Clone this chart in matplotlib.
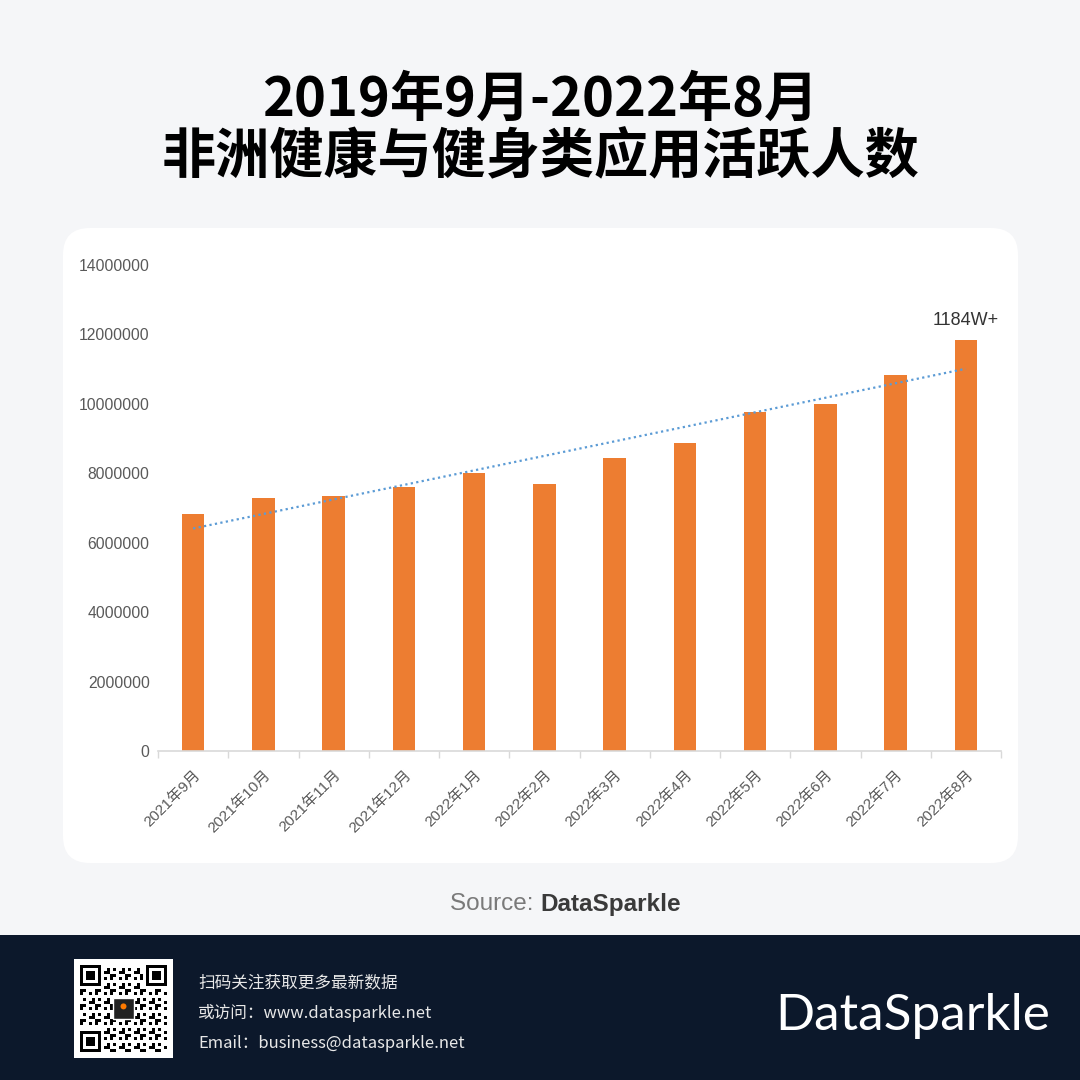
import matplotlib
matplotlib.use("Agg")
import matplotlib.pyplot as plt
import numpy as np
from matplotlib.patches import FancyBboxPatch, Rectangle, Circle

# ---------------- data ----------------
months = ["2021年9月", "2021年10月", "2021年11月", "2021年12月", "2022年1月", "2022年2月",
          "2022年3月", "2022年4月", "2022年5月", "2022年6月", "2022年7月", "2022年8月"]
active_users = [6830000, 7290000, 7350000, 7610000, 8010000, 7690000,
                8440000, 8870000, 9770000, 10000000, 10830000, 11840000]
y_ticks = [0, 2000000, 4000000, 6000000, 8000000, 10000000, 12000000, 14000000]
last_label = "1184W+"

title_lines = ["2019年9月-2022年8月", "非洲健康与健身类应用活跃人数"]

CJK = ["Noto Sans CJK SC", "DejaVu Sans"]
LAT = ["Liberation Sans", "Noto Sans CJK SC", "DejaVu Sans"]
plt.rcParams["font.family"] = LAT

W = H = 1080
fig = plt.figure(figsize=(10.8, 10.8), dpi=100)
fig.patch.set_facecolor("#f5f6f8")

def fx(px):
    return px / W

def fy(py):
    return 1 - py / H

# title
fig.text(0.5, fy(100), title_lines[0], ha="center", va="center", fontsize=39,
         fontweight="heavy", family=CJK, color="#000000")
fig.text(0.5, fy(158), title_lines[1], ha="center", va="center", fontsize=39,
         fontweight="heavy", family=CJK, color="#000000")

# white panel
panel = FancyBboxPatch((fx(63), fy(863)), fx(1018 - 63), (863 - 228) / H,
                       boxstyle="round,pad=0,rounding_size=0.025",
                       transform=fig.transFigure, facecolor="white",
                       edgecolor="none", zorder=-10)
fig.patches.append(panel)

# axes
ax = fig.add_axes([fx(158), fy(751), fx(1001 - 158), (751 - 265) / H])
ax.set_facecolor("none")
ax.set_zorder(5)
x = np.arange(len(months))
ax.bar(x, active_users, width=0.32, color="#ED7D31", zorder=2)

# linear trendline
coef = np.polyfit(x, active_users, 1)
ax.plot(x, np.polyval(coef, x), linestyle=(0, (1, 1.5)), color="#5B9BD5",
        linewidth=1.6, zorder=3)

ax.annotate(last_label, (x[-1], active_users[-1]), xytext=(0, 8),
            textcoords="offset points", ha="center", va="bottom",
            fontsize=13, color="#333333")

ax.set_xlim(-0.5, len(months) - 0.5)
ax.set_ylim(0, 14000000)
ax.set_yticks(y_ticks)
ax.set_yticklabels([str(v) for v in y_ticks], fontsize=11.3, color="#595959")
ax.tick_params(axis="y", length=0, pad=6)

ax.set_xticks(x)
ax.set_xticklabels(months, rotation=45, ha="right", rotation_mode="anchor",
                   fontsize=11, color="#595959")
ax.tick_params(axis="x", which="major", length=0, pad=12)
ax.set_xticks(np.arange(-0.5, len(months), 1), minor=True)
ax.tick_params(axis="x", which="minor", length=5, color="#d9d9d9", width=1)

for s in ["top", "right", "left"]:
    ax.spines[s].set_visible(False)
ax.spines["bottom"].set_color("#d9d9d9")
ax.spines["bottom"].set_linewidth(1.2)

# source
fig.text(0.5, fy(904), "Source: ", ha="right", va="center", fontsize=17.5,
         color="#7a7a7a", family=LAT)
fig.text(0.5, fy(904), "DataSparkle", ha="left", va="center", fontsize=17.5,
         color="#3a3a3a", fontweight="bold", family=LAT)

# footer band
band = Rectangle((0, 0), 1, (1080 - 935) / H, transform=fig.transFigure,
                 facecolor="#0c182b", edgecolor="none", zorder=-10)
fig.patches.append(band)

# QR placeholder
qr = Rectangle((fx(74), fy(1058)), fx(99), 99 / H, transform=fig.transFigure,
               facecolor="white", edgecolor="none", zorder=-5)
fig.patches.append(qr)
qr_ax = fig.add_axes([fx(80), fy(1052), fx(87), 87 / H])
qr_ax.set_zorder(5)
qr_ax.set_xlim(0, 29)
qr_ax.set_ylim(0, 29)
qr_ax.axis("off")
for (cx, cy) in [(0, 22), (22, 22), (0, 0)]:
    qr_ax.add_patch(Rectangle((cx, cy), 7, 7, facecolor="black"))
    qr_ax.add_patch(Rectangle((cx + 1, cy + 1), 5, 5, facecolor="white"))
    qr_ax.add_patch(Rectangle((cx + 2, cy + 2), 3, 3, facecolor="black"))
for i in range(29):
    for j in range(29):
        inside_finder = (i < 8 and j > 20) or (i > 20 and j > 20) or (i < 8 and j < 8)
        if inside_finder:
            continue
        if ((i * 7 + j * 13 + i * j) % 5) in (0, 2):
            qr_ax.add_patch(Rectangle((i, j), 1, 1, facecolor="black"))
qr_ax.add_patch(Rectangle((11, 11), 7, 7, facecolor="#222222", edgecolor="white", linewidth=1))
qr_ax.add_patch(Circle((14.5, 15.2), 1.0, facecolor="#ff7a00"))

fig.text(fx(198), fy(983), "扫码关注获取更多最新数据", ha="left", va="center",
         fontsize=12, color="#e8e8e8", family=CJK)
fig.text(fx(198), fy(1013), "或访问：www.datasparkle.net", ha="left", va="center",
         fontsize=12, color="#e8e8e8", family=CJK)
fig.text(fx(198), fy(1043), "Email：business@datasparkle.net", ha="left", va="center",
         fontsize=12, color="#e8e8e8", family=CJK)

fig.text(fx(1050), fy(1016), "DataSparkle", ha="right", va="center",
         fontsize=37, color="white", family=["Lato", "DejaVu Sans"])

fig.savefig("out.png", dpi=100, facecolor=fig.get_facecolor())
